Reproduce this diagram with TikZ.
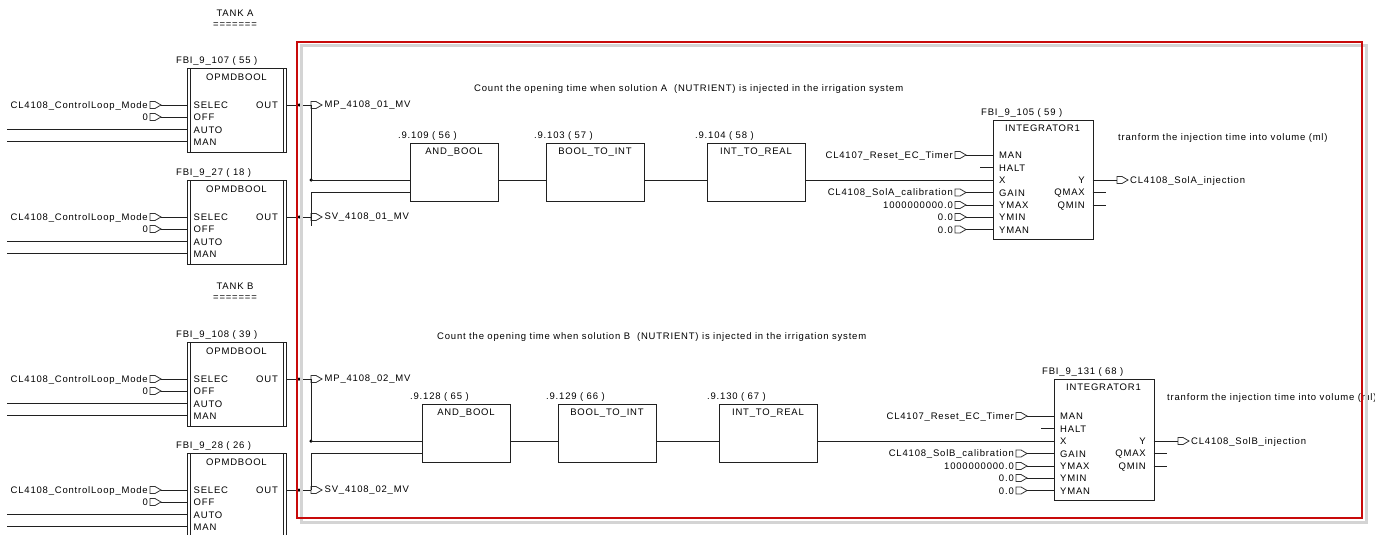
\documentclass[tikz,border=0pt]{standalone}
\usepackage{fontspec}
\setmainfont[LetterSpace=8.5]{Liberation Sans}
\usetikzlibrary{calc}
\definecolor{wirec}{HTML}{202020}
\definecolor{redc}{HTML}{C80A0A}
\definecolor{shadc}{HTML}{D4D4D4}
\tikzset{
  wire/.style={draw=wirec,line width=1pt},
  blk/.style={draw=wirec,line width=1pt,fill=white,anchor=north west,inner sep=0pt},
  lbl/.style={inner sep=0pt,yshift=-0.6pt,font=\fontsize{9.5}{10}\selectfont,text=black},
  lft/.style={lbl,anchor=west},
  rgt/.style={lbl,anchor=east},
  ctr/.style={lbl,anchor=center},
  sym/.style={draw=black!80,line width=0.8pt},
  junc/.style={circle,fill=black,inner sep=0pt,minimum size=3.5pt},
}
% input/output connector symbol: #1 name of tip, #2 x of left edge, #3 y; #4 name of left end
\newcommand{\connsym}[4]{%
  \draw[sym] (#2,#3-3.5) -- (#2+5,#3-3.5) -- (#2+11,#3) -- (#2+5,#3+3.5) -- (#2,#3+3.5) -- cycle;
  \coordinate (#1) at (#2+11,#3);
  \coordinate (#4) at (#2,#3);
}
% input with text: #1 id, #2 symbol x, #3 y, #4 text, #5 target pin
\newcommand{\inp}[5]{%
  \connsym{#1}{#2}{#3}{#1-l}
  \node[rgt] (#1-t) at (#2-2,#3) {#4};
  \draw[wire] (#1) -- (#5);
}
% OPMDBOOL block: #1 id, #2 top, #3 caption, #4 output text
\newcommand{\opmd}[4]{%
  \node[blk,minimum width=99pt,minimum height=84pt] (#1) at (187,#2) {};
  \draw[wire] (190,#2) -- (190,#2+84) (283,#2) -- (283,#2+84);
  \node[lft] (#1-cap) at (176,#2-7.5) {#3};
  \node[ctr] (#1-title) at (236.5,#2+9) {OPMDBOOL};
  \node[lft] (#1-ps) at (193.5,#2+37) {SELEC};
  \node[lft] (#1-po) at (193.5,#2+49) {OFF};
  \node[lft] (#1-pa) at (193.5,#2+61.5) {AUTO};
  \node[lft] (#1-pm) at (193.5,#2+73.5) {MAN};
  \node[rgt] (#1-pout) at (278,#2+37) {OUT};
  \coordinate (#1-s) at (187,#2+37);
  \coordinate (#1-o) at (187,#2+49);
  \coordinate (#1-a) at (187,#2+61.5);
  \coordinate (#1-m) at (187,#2+73.5);
  \coordinate (#1-out) at (286,#2+37);
  \coordinate (#1-aw) at (7,#2+61.5);
  \coordinate (#1-mw) at (7,#2+73.5);
  \inp{#1-i1}{150}{#2+37}{CL4108\_ControlLoop\_Mode}{#1-s}
  \inp{#1-i2}{150}{#2+49}{0}{#1-o}
  \draw[wire] (#1-aw) -- (#1-a);
  \draw[wire] (#1-mw) -- (#1-m);
  \connsym{#1-x}{311}{#2+37}{#1-xl}
  \node[lft] (#1-xt) at (324.5,#2+37) {#4};
  \draw[wire] (#1-out) -- (#1-xl);
  \node[junc] (#1-d) at (299,#2+37) {};
}
% simple function block: #1 id, #2 width, #3 x, #4 top, #5 title
\newcommand{\fn}[5]{%
  \node[blk,minimum width=#2pt,minimum height=58pt] (#1) at (#3,#4) {};
  \node[lft] (#1-cap) at (#3-12,#4-8) {\fnCap};
  \node[ctr] (#1-title) at (#3+#2/2,#4+9) {#5};
  \coordinate (#1-in) at (#3,#4+37);
  \coordinate (#1-in2) at (#3,#4+49);
  \coordinate (#1-out) at (#3+#2,#4+37);
}
% integrator: #1 id, #2 x, #3 top, #4 height, #5 MAN row y, #6 caption, #7 gain label, #8 out label
\newcommand{\integ}[8]{%
  \node[blk,minimum width=99.5pt,minimum height=#4pt] (#1) at (#2,#3) {};
  \node[lft] (#1-cap) at (#2-12,#3-7.5) {#6};
  \node[ctr] (#1-title) at (#2+49.5,#3+7.5) {INTEGRATOR1};
  \node[lft] (#1-a) at (#2+6,#5) {MAN};
  \node[lft] (#1-b) at (#2+6,#5+12.5) {HALT};
  \node[lft] (#1-c) at (#2+6,#5+25) {X};
  \node[lft] (#1-d) at (#2+6,#5+37.5) {GAIN};
  \node[lft] (#1-e) at (#2+6,#5+50) {YMAX};
  \node[lft] (#1-f) at (#2+6,#5+62) {YMIN};
  \node[lft] (#1-g) at (#2+6,#5+74.5) {YMAN};
  \node[rgt] (#1-y) at (#2+92,#5+25) {Y};
  \node[rgt] (#1-q1) at (#2+92,#5+37.5) {QMAX};
  \node[rgt] (#1-q2) at (#2+92,#5+50) {QMIN};
  \coordinate (#1-pa) at (#2,#5);
  \coordinate (#1-pb) at (#2,#5+12.5);
  \coordinate (#1-pc) at (#2,#5+25);
  \coordinate (#1-pd) at (#2,#5+37.5);
  \coordinate (#1-pe) at (#2,#5+50);
  \coordinate (#1-pf) at (#2,#5+62);
  \coordinate (#1-pg) at (#2,#5+74.5);
  \coordinate (#1-hs) at (#2-13,#5+12.5);
  \draw[wire] (#1-hs) -- (#1-pb);
  \inp{#1-i1}{#2-38}{#5}{CL4107\_Reset\_EC\_Timer}{#1-pa}
  \inp{#1-i2}{#2-38}{#5+37.5}{#7}{#1-pd}
  \inp{#1-i3}{#2-38}{#5+50}{1000000000.0}{#1-pe}
  \inp{#1-i4}{#2-38}{#5+62}{0.0}{#1-pf}
  \inp{#1-i5}{#2-38}{#5+74.5}{0.0}{#1-pg}
  \coordinate (#1-py) at (#2+99.5,#5+25);
  \coordinate (#1-pq1) at (#2+99.5,#5+37.5);
  \coordinate (#1-pq2) at (#2+99.5,#5+50);
  \coordinate (#1-q1s) at (#2+112.5,#5+37.5);
  \coordinate (#1-q2s) at (#2+112.5,#5+50);
  \draw[wire] (#1-pq1) -- (#1-q1s);
  \draw[wire] (#1-pq2) -- (#1-q2s);
  \connsym{#1-x}{#2+124}{#5+25}{#1-xl}
  \node[lft] (#1-xt) at (#2+137,#5+25) {#8};
  \draw[wire] (#1-py) -- (#1-xl);
}
\begin{document}
\begin{tikzpicture}[x=1pt,y=-1pt]
\clip (0,0) rectangle (1375,535);
\fill[white] (0,0) rectangle (1375,535);
% texts
\node[ctr] (tankA) at (235,13) {TANK A};
\node[ctr] (eqA) at (235,25) {=======};
\node[ctr] (tankB) at (235,286) {TANK B};
\node[ctr] (eqB) at (235,298) {=======};
\node[lft] (noteA) at (474,88) {Count the opening time when solution A\ \ (NUTRIENT) is injected in the irrigation system};
\node[lft] (noteB) at (437,336) {Count the opening time when solution B\ \ (NUTRIENT) is injected in the irrigation system};
\node[lft] (volA) at (1118,137) {tranform the injection time into volume (ml)};
\node[lft] (volB) at (1167,397) {tranform the injection time into volume (ml)};
% left blocks
\opmd{b1}{68}{FBI\_9\_107 ( 55 )}{MP\_4108\_01\_MV}
\opmd{b2}{180}{FBI\_9\_27 ( 18 )}{SV\_4108\_01\_MV}
\opmd{b3}{342}{FBI\_9\_108 ( 39 )}{MP\_4108\_02\_MV}
\opmd{b4}{453}{FBI\_9\_28 ( 26 )}{SV\_4108\_02\_MV}
% upper chain
\def\fnCap{.9.109 ( 56 )}\fn{a1}{88}{410}{143}{AND\_BOOL}
\def\fnCap{.9.103 ( 57 )}\fn{a2}{98}{546}{143}{BOOL\_TO\_INT}
\def\fnCap{.9.104 ( 58 )}\fn{a3}{98}{707}{143}{INT\_TO\_REAL}
\integ{ia}{993}{120}{119}{155}{FBI\_9\_105 ( 59 )}{CL4108\_SolA\_calibration}{CL4108\_SolA\_injection}
\coordinate (ja) at (311,180);
\coordinate (jb) at (311,192);
\node[junc] (jad) at (ja) {};
\draw[wire] (b1-xl) -- (ja);
\draw[wire] (jb) -- (311,226);
\draw[wire] (ja) -- (a1-in);
\draw[wire] (jb) -- (a1-in2);
\draw[wire] (a1-out) -- (a2-in);
\draw[wire] (a2-out) -- (a3-in);
\draw[wire] (a3-out) -- (ia-pc);
% lower chain
\def\fnCap{.9.128 ( 65 )}\fn{c1}{88}{422}{404}{AND\_BOOL}
\def\fnCap{.9.129 ( 66 )}\fn{c2}{98}{558}{404}{BOOL\_TO\_INT}
\def\fnCap{.9.130 ( 67 )}\fn{c3}{98}{719}{404}{INT\_TO\_REAL}
\integ{ib}{1054}{379}{121}{416}{FBI\_9\_131 ( 68 )}{CL4108\_SolB\_calibration}{CL4108\_SolB\_injection}
\coordinate (jc) at (311,441);
\coordinate (jd) at (311,453);
\node[junc] (jcd) at (jc) {};
\draw[wire] (b3-xl) -- (jc);
\draw[wire] (jd) -- (b4-xl);
\draw[wire] (jc) -- (c1-in);
\draw[wire] (jd) -- (c1-in2);
\draw[wire] (c1-out) -- (c2-in);
\draw[wire] (c2-out) -- (c3-in);
\draw[wire] (c3-out) -- (ib-pc);
% red frame
\draw[shadc,line width=3pt] (301,46) rectangle (1366,522);
\draw[redc,line width=2pt] (297,42) rectangle (1362,518);
\end{tikzpicture}
\end{document}
